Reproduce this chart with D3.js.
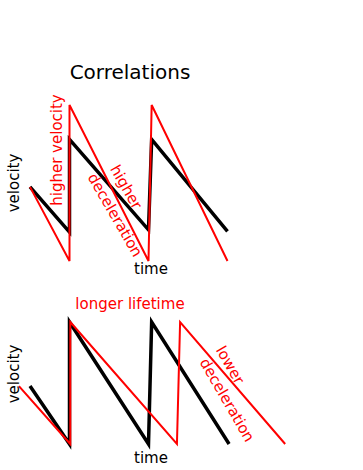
<!DOCTYPE html>
<html>
<head>
<meta charset="utf-8">
<script src="https://cdn.jsdelivr.net/npm/d3@7"></script>
<style>
body{margin:0;background:#fff;}
svg text{font-family:"DejaVu Sans",Verdana,sans-serif;}
</style>
</head>
<body>
<div id="chart"></div>
<script>
let width = 363;
let height = 470;

// top panel: higher velocity / higher deceleration
let topBlackT = [0, 1, 1, 3, 3.08, 5];
let topBlackV = [4.75, 1.85, 7.8, 2.0, 7.8, 1.9];
let topRedT = [0, 1, 1, 3, 3.08, 5];
let topRedV = [4.75, 0, 10, 0, 10, 0];

// bottom panel: longer lifetime / lower deceleration
let botBlackT = [0, 1, 1, 3, 3.08, 5.04];
let botBlackV = [4.75, 0, 10, 0, 10, 0];
let botRedT = [-0.28, 1.02, 1.02, 3.72, 3.8, 6.46];
let botRedV = [4.75, 0, 10, 0, 10, 0];

let svg = d3.select("#chart").append("svg")
.attr("width", width)
.attr("height", height);

let x = d3.scaleLinear().domain([0, 10]).range([30, 425]);
let yTop = d3.scaleLinear().domain([0, 10]).range([261, 105]);
let yBot = d3.scaleLinear().domain([0, 10]).range([444, 322]);

function drawLine(ts, vs, y, col, sw) {
  let pts = ts.map((t, i) => [t, vs[i]]);
  let line = d3.line().x(d => x(d[0])).y(d => y(d[1]));
  svg.append("path").datum(pts)
  .attr("d", line)
  .attr("fill", "none")
  .attr("stroke", col)
  .attr("stroke-width", sw)
  .attr("stroke-linejoin", "miter");
}

// black under red
drawLine(topBlackT, topBlackV, yTop, "#000", 3.5);
drawLine(topRedT, topRedV, yTop, "#ff0000", 2);
drawLine(botBlackT, botBlackV, yBot, "#000", 3.5);
drawLine(botRedT, botRedV, yBot, "#ff0000", 2);

function label(txt, cx, cy, rot, size, col) {
  svg.append("text")
  .attr("transform", `translate(${cx},${cy}) rotate(${rot})`)
  .attr("text-anchor", "middle")
  .attr("dominant-baseline", "central")
  .style("font-size", size + "px")
  .style("fill", col)
  .text(txt);
}

svg.append("text").attr("x", 130).attr("y", 79)
.attr("text-anchor", "middle").style("font-size", "20px").text("Correlations");

label("velocity", 14, 183, -90, 15, "#000");
label("higher velocity", 57, 150, -90, 15, "#ff0000");
label("higher", 126, 187, 60, 15, "#ff0000");
label("deceleration", 115, 215, 60, 15, "#ff0000");
label("time", 151, 269, 0, 15, "#000");

label("longer lifetime", 130, 304, 0, 15, "#ff0000");
label("velocity", 14, 374, -90, 15, "#000");
label("lower", 230, 365, 60, 15, "#ff0000");
label("deceleration", 227, 400, 60, 15, "#ff0000");
label("time", 151, 458, 0, 15, "#000");
</script>
</body>
</html>
